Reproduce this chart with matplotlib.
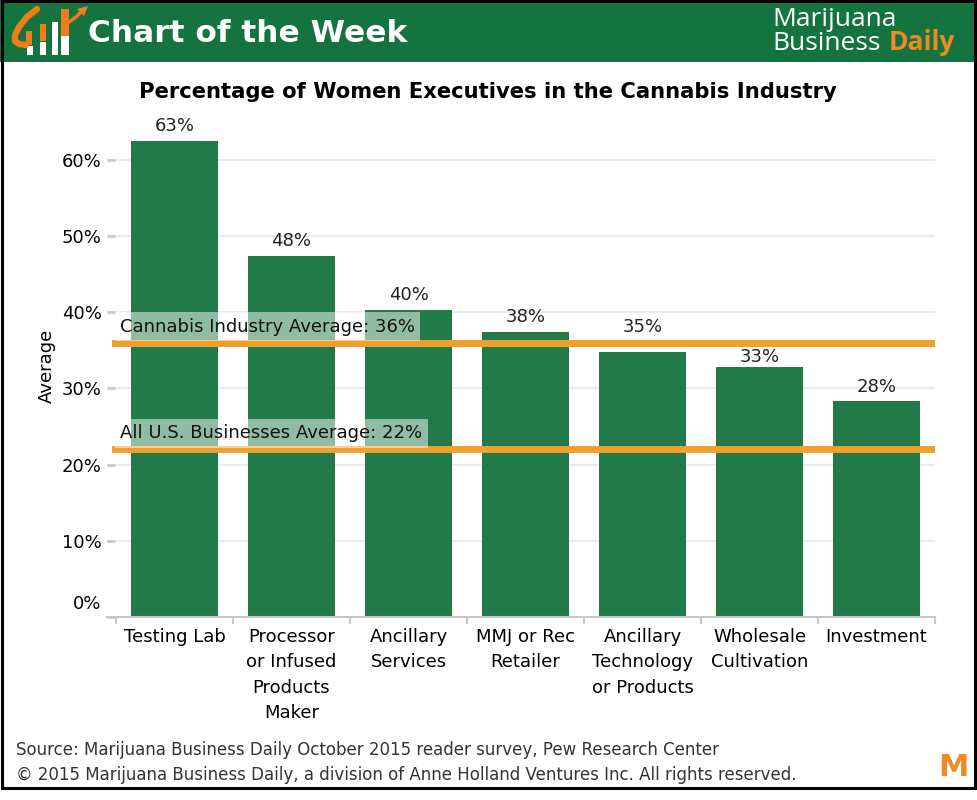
import matplotlib
matplotlib.use("Agg")
import matplotlib.pyplot as plt
import matplotlib.patches as mpatches
import matplotlib.transforms as mtransforms
import numpy as np

categories = ["Testing Lab", "Processor\nor Infused\nProducts\nMaker", "Ancillary\nServices",
              "MMJ or Rec\nRetailer", "Ancillary\nTechnology\nor Products", "Wholesale\nCultivation",
              "Investment"]
values = [0.625, 0.474, 0.403, 0.374, 0.348, 0.328, 0.283]
value_labels = ["63%", "48%", "40%", "38%", "35%", "33%", "28%"]
ref_values = [0.36, 0.22]
ref_labels = ["Cannabis Industry Average: 36%", "All U.S. Businesses Average: 22%"]
yticks = [0.0, 0.1, 0.2, 0.3, 0.4, 0.5, 0.6]
ytick_labels = ["0%", "10%", "20%", "30%", "40%", "50%", "60%"]

# style: label nudges (pixels) to avoid the reference lines
label_nudge_px = [0, 0, 0, 0, 10, -5, 0]

W, H = 977, 800
fig = plt.figure(figsize=(W / 100, H / 100), dpi=100)
fig.patch.set_facecolor("white")

def fx(px):
    return px / W

def fy(py):
    return 1 - py / H

BAR = "#217A47"
ORANGE = "#F0A02A"
HEADER = "#14733F"
LOGO_ORANGE = "#F08A24"
SWOOSH = "#EF7D1A"

# header band
fig.patches.append(mpatches.Rectangle((0, fy(62)), 1, 62 / H, transform=fig.transFigure,
                                      facecolor=HEADER, edgecolor="none", zorder=0))
# frame
fig.patches.append(mpatches.Rectangle((fx(1.5), fy(788)), fx(973.5), (788 - 1) / H,
                                      transform=fig.transFigure, facecolor="none",
                                      edgecolor="black", lw=2.2, zorder=5))

# logo: white bars, orange bar tops and swoosh
def rect(x0, x1, y0, y1, color, z):
    fig.patches.append(mpatches.Rectangle((fx(x0), fy(y1)), fx(x1 - x0), (y1 - y0) / H,
                                          transform=fig.transFigure, facecolor=color,
                                          edgecolor="none", zorder=z))

for (x0, x1, y0) in [(27, 33, 46), (40, 46, 42), (52, 58, 22), (61, 69, 36)]:
    rect(x0, x1, y0, 55, "white", 2)
for (x0, x1, y0, y1) in [(26, 32, 31, 45), (40, 46, 24, 41), (61, 69, 9, 36)]:
    rect(x0, x1, y0, y1, SWOOSH, 3)
xs = [fx(v) for v in (37, 27, 19, 15, 15, 19, 26)]
ys = [fy(v) for v in (9, 17, 27, 35, 41, 44, 45)]
fig.lines.append(plt.Line2D(xs, ys, transform=fig.transFigure, color=SWOOSH, lw=4.5,
                            solid_capstyle="round", zorder=3))
xs = [fx(v) for v in (69, 76, 81)]
ys = [fy(v) for v in (22, 17, 12)]
fig.lines.append(plt.Line2D(xs, ys, transform=fig.transFigure, color=SWOOSH, lw=2.5,
                            solid_capstyle="round", zorder=3))
fig.patches.append(mpatches.Polygon([(fx(77), fy(9)), (fx(88), fy(6)), (fx(84), fy(16))],
                                    closed=True, transform=fig.transFigure,
                                    facecolor=SWOOSH, edgecolor="none", zorder=3))

fig.text(fx(88), fy(34), "Chart of the Week", color="white", fontsize=22.5, fontweight="bold",
         family="DejaVu Sans", va="center", ha="left")
fig.text(fx(772), fy(20), "Marijuana", color="white", fontsize=19, family="Open Sans",
         va="center", ha="left")
t1 = fig.text(fx(772), fy(43), "Business", color="white", fontsize=19, family="Open Sans",
              va="center", ha="left")
renderer = fig.canvas.get_renderer()
bb = t1.get_window_extent(renderer)
fig.text((bb.x1 + 8) / W, fy(43), "Daily", color=LOGO_ORANGE, fontsize=19, fontweight="bold",
         family="Open Sans", va="center", ha="left")

# title
fig.text(fx(488), fy(92), "Percentage of Women Executives in the Cannabis Industry",
         fontsize=15.2, fontweight="bold", ha="center", va="center", color="black",
         family="DejaVu Sans")

# axes
ax_left, ax_right = 107, 935
ax_bottom, ax_top = 617, 114
ax = fig.add_axes([fx(ax_left), fy(ax_bottom), fx(ax_right - ax_left), (ax_bottom - ax_top) / H])
x = np.arange(len(categories))
ax.set_xlim(-0.5 - 9 / 117, 6.5)
ax.set_ylim(0, 0.66)
ax.bar(x, values, width=87 / 117, color=BAR, zorder=2)
for xi, v, lab, nd in zip(x, values, value_labels, label_nudge_px):
    ax.annotate(lab, (xi, v), xytext=(0, 4 + nd * 0.72), textcoords="offset points",
                ha="center", va="bottom", fontsize=13, color="#222222", annotation_clip=False)

xmin_frac = (8 / 117) / (7.0 + 9 / 117)
for i, (rv, rl) in enumerate(zip(ref_values, ref_labels)):
    ax.axhline(rv, xmin=xmin_frac, color=ORANGE, lw=5, zorder=4)
    ax.text(-0.5 + 4 / 117, rv + 0.009, rl, ha="left", va="bottom", fontsize=13,
            color="#111111", zorder=5,
            bbox=dict(boxstyle="square,pad=0.3", facecolor="white", alpha=0.5,
                      edgecolor="none"))

ax.set_yticks(yticks)
ax.set_yticklabels(ytick_labels, fontsize=13)
ax.set_xticks(x)
ax.set_xticklabels(categories, fontsize=13, va="top", linespacing=1.52)
ax.set_xticks(np.arange(-0.5, 7.0, 1.0), minor=True)
ax.tick_params(axis="x", which="major", length=0, pad=8)
ax.tick_params(axis="x", which="minor", length=5, color="#C8C8C8", width=1.5)
ax.tick_params(axis="y", which="major", length=6, direction="in", color="#C8C8C8", width=2,
               pad=4)
ax.grid(axis="y", color="#E8E8E8", lw=1.2, zorder=0)
for s in ["top", "right", "left"]:
    ax.spines[s].set_visible(False)
ax.spines["bottom"].set_color("#C8C8C8")
ax.spines["bottom"].set_linewidth(1.5)
ax.set_ylabel("Average", fontsize=13, labelpad=4)

# shift the 0% label up
lbl0 = ax.get_yticklabels()[0]
lbl0.set_transform(lbl0.get_transform() + mtransforms.ScaledTranslation(0, 15 / 100, fig.dpi_scale_trans))

# footer
fig.text(fx(16), fy(750), "Source: Marijuana Business Daily October 2015 reader survey, Pew Research Center",
         fontsize=12, color="#333333", ha="left", va="center", family="DejaVu Sans")
fig.text(fx(16), fy(775), "\u00a9 2015 Marijuana Business Daily, a division of Anne Holland Ventures Inc. All rights reserved.",
         fontsize=12, color="#333333", ha="left", va="center", family="DejaVu Sans")
fig.text(fx(953), fy(768), "M", fontsize=22, fontweight="bold", color=LOGO_ORANGE,
         ha="center", va="center", family="DejaVu Sans")

fig.savefig("out.png", dpi=100)
